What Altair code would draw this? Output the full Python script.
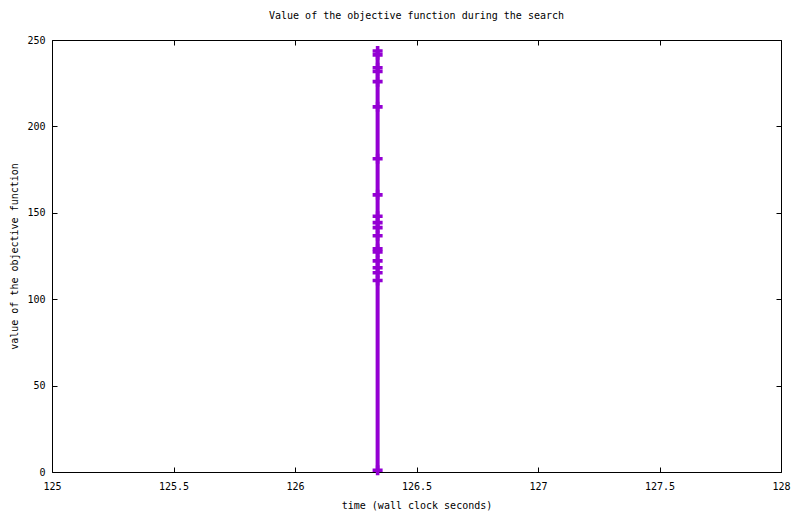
import pandas as pd
import altair as alt

times = [126.34] * 19
values = [243.6, 241.4, 233.9, 231.8, 225.9, 211.3, 181.3, 160.4, 148.0, 144.3,
          141.4, 136.7, 129.2, 127.4, 122.2, 118.2, 115.3, 110.8, 1.0]

x_ticks = [125, 125.5, 126, 126.5, 127, 127.5, 128]
y_ticks = [0, 50, 100, 150, 200, 250]

search = pd.DataFrame({"time": times, "value": values})

font = "DejaVu Sans Mono"
purple = "#9400D3"

x_enc = alt.X("time:Q", scale=alt.Scale(domain=[125, 128], nice=False, zero=False),
              axis=alt.Axis(title="time (wall clock seconds)", values=x_ticks,
                            format="~g", tickSize=0, labelPadding=9, titlePadding=9,
                            labelFlush=False,
                            grid=True, gridColor="black", gridOpacity=1,
                            gridDash=[5, 422, 5], domain=False))
y_enc = alt.Y("value:Q", scale=alt.Scale(domain=[0, 250], nice=False),
              axis=alt.Axis(title="value of the objective function", values=y_ticks,
                            tickSize=0, labelPadding=7, labelFlush=False,
                            titleX=-38, titleY=216, titleBaseline="middle",
                            grid=True, gridColor="black", gridOpacity=1,
                            gridDash=[5, 719, 5], domain=False))

line = (alt.Chart(search)
        .mark_line(color=purple, strokeWidth=4, strokeCap="butt")
        .encode(x=x_enc, y=y_enc, order=alt.Order("value:Q")))

crosses = (alt.Chart(search)
           .mark_point(shape="M-1,0L1,0M0,-1L0,1", size=100, filled=False,
                       color=purple, strokeWidth=3.6, opacity=1)
           .encode(x="time:Q", y="value:Q"))

chart = (alt.layer(line, crosses)
         .properties(width=729, height=432,
                     title=alt.TitleParams("Value of the objective function during the search",
                                           offset=14, fontWeight="normal"),
                     autosize=alt.AutoSizeParams(type="none"),
                     padding={"left": 44, "top": 32, "right": 11, "bottom": 40})
         .configure_view(stroke="black", strokeWidth=1)
         .configure_axis(labelFont=font, titleFont=font, labelFontSize=10,
                         titleFontSize=10, titleFontWeight="normal",
                         labelColor="black", titleColor="black")
         .configure_title(font=font, fontSize=10, color="black"))

chart.save("out.html", embed_options={"renderer": "svg", "actions": False})
